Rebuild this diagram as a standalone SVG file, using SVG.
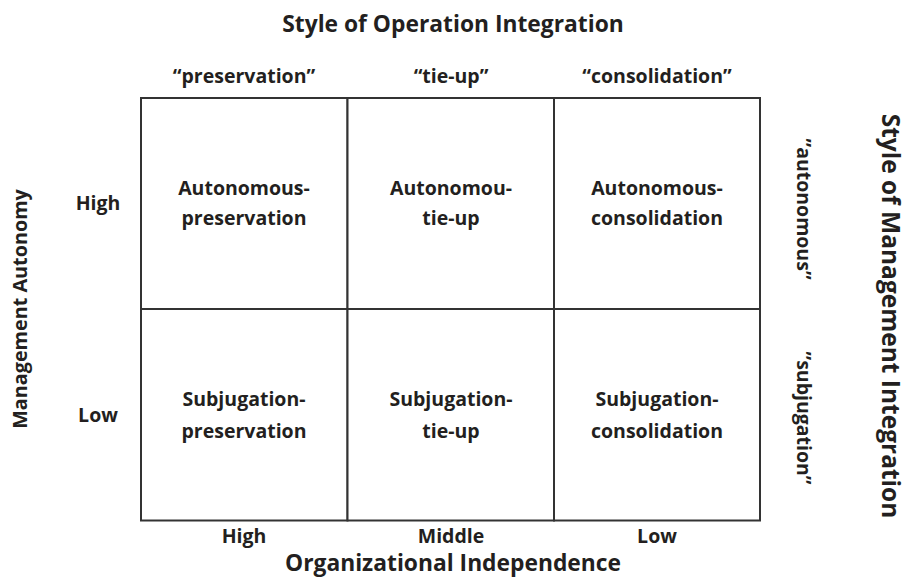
<svg xmlns="http://www.w3.org/2000/svg" width="909" height="579" viewBox="0 0 909 579">
  <style>
    text { font-family: "Open Sans", "Noto Sans", "Liberation Sans", sans-serif; font-weight: 700; fill: #231f20; text-anchor: middle; }
    .title { font-size: 22.8px; }
    .side { font-size: 24.5px; }
    .head { font-size: 19.5px; }
    .axis { font-size: 19.8px; }
    .cell { font-size: 19.5px; }
    .cellbox { fill: #ffffff; stroke: #333333; stroke-width: 2; }
  </style>

  <!-- axis titles -->
  <text class="title" x="453" y="32">Style of Operation Integration</text>
  <text class="title" x="453" y="571">Organizational Independence</text>
  <text class="side" transform="translate(882,316) rotate(90)">Style of Management Integration</text>
  <text class="axis" transform="translate(27,309) rotate(-90)">Management Autonomy</text>

  <!-- column headings -->
  <text class="head" x="244" y="83">“preservation”</text>
  <text class="head" x="451" y="83">“tie-up”</text>
  <text class="head" x="657" y="83">“consolidation”</text>

  <!-- row headings -->
  <text class="head" x="98" y="210">High</text>
  <text class="head" x="98" y="422">Low</text>
  <text class="head" transform="translate(797,209) rotate(90)">”autonomous”</text>
  <text class="head" transform="translate(797,418) rotate(90)">”subjugation”</text>

  <!-- bottom scale -->
  <text class="head" x="244" y="543">High</text>
  <text class="head" x="451" y="543">Middle</text>
  <text class="head" x="657" y="543">Low</text>

  <!-- matrix cells -->
  <g id="autonomous-preservation">
    <rect class="cellbox" x="141" y="98" width="206.5" height="211"/>
    <text class="cell" x="244" y="195">Autonomous-</text>
    <text class="cell" x="244" y="225">preservation</text>
  </g>
  <g id="autonomous-tie-up">
    <rect class="cellbox" x="347.5" y="98" width="206.5" height="211"/>
    <text class="cell" x="451" y="195">Autonomou-</text>
    <text class="cell" x="451" y="225">tie-up</text>
  </g>
  <g id="autonomous-consolidation">
    <rect class="cellbox" x="554" y="98" width="206" height="211"/>
    <text class="cell" x="657" y="195">Autonomous-</text>
    <text class="cell" x="657" y="225">consolidation</text>
  </g>
  <g id="subjugation-preservation">
    <rect class="cellbox" x="141" y="309" width="206.5" height="211.5"/>
    <text class="cell" x="244" y="406">Subjugation-</text>
    <text class="cell" x="244" y="438">preservation</text>
  </g>
  <g id="subjugation-tie-up">
    <rect class="cellbox" x="347.5" y="309" width="206.5" height="211.5"/>
    <text class="cell" x="451" y="406">Subjugation-</text>
    <text class="cell" x="451" y="438">tie-up</text>
  </g>
  <g id="subjugation-consolidation">
    <rect class="cellbox" x="554" y="309" width="206" height="211.5"/>
    <text class="cell" x="657" y="406">Subjugation-</text>
    <text class="cell" x="657" y="438">consolidation</text>
  </g>

  <!-- no connectors in this matrix -->
  <g id="connectors"/>
</svg>
